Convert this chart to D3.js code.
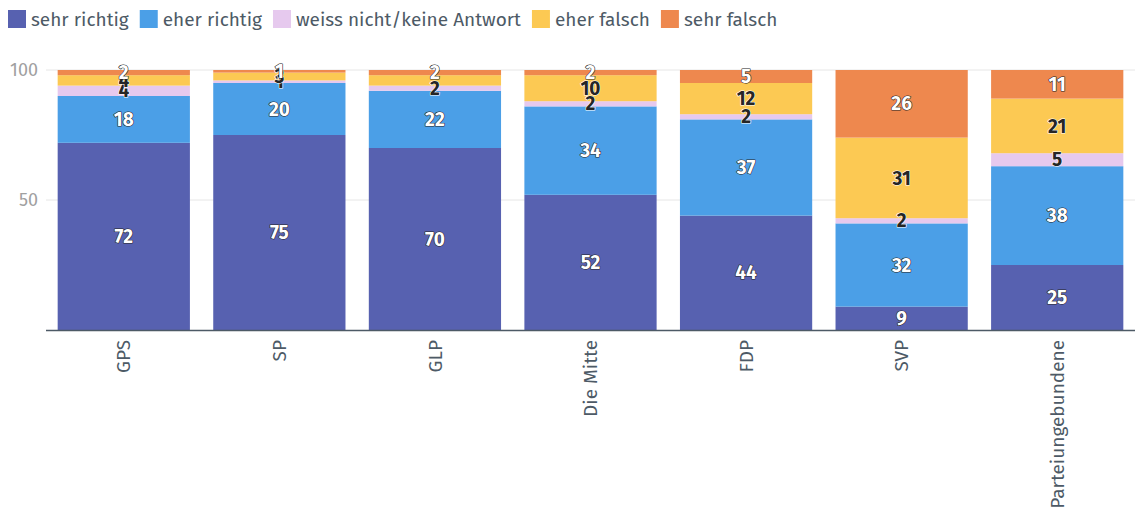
<!DOCTYPE html>
<html><head><meta charset="utf-8">
<script src="https://cdn.jsdelivr.net/npm/d3@7"></script>
<style>
body{margin:0;background:#fff;}
svg{display:block;font-family:"Fira Sans","Lato","Open Sans",sans-serif;}
</style></head>
<body><svg id="c" width="1135" height="509"></svg>
<script>
const categories = ["GPS","SP","GLP","Die Mitte","FDP","SVP","Parteiungebundene"];
const seriesNames = ["sehr richtig","eher richtig","weiss nicht/keine Antwort","eher falsch","sehr falsch"];
const sehrRichtig = [72,75,70,52,44,9,25];
const eherRichtig = [18,20,22,34,37,32,38];
const weissNicht  = [4,1,2,2,2,2,5];
const eherFalsch  = [4,3,4,10,12,31,21];
const sehrFalsch  = [2,1,2,2,5,26,11];
const yTicks = [50,100];
// labels the reference hides because they collide (category, series)
const hiddenLabels = [["GLP","eher falsch"]];

const colors = ["#5761b0","#4b9fe7","#e6c9ee","#fcc953","#ee884e"];
const darkText = [false,false,true,true,false];
const values = [sehrRichtig,eherRichtig,weissNicht,eherFalsch,sehrFalsch];

const svg = d3.select("#c");
const x = d3.scaleBand().domain(categories).range([46,1135]).paddingInner(0.15).paddingOuter(0.075);
const y = d3.scaleLinear().domain([0,100]).range([330,70]);

// grid
svg.append("g").selectAll("line").data(yTicks).join("line")
  .attr("x1",46).attr("x2",1135).attr("y1",d=>y(d)).attr("y2",d=>y(d))
  .attr("stroke","#e6e6e6").attr("stroke-width",1);
svg.append("g").selectAll("text").data(yTicks).join("text")
  .attr("x",38).attr("y",d=>y(d)).attr("dy","0.35em").attr("text-anchor","end")
  .attr("fill","#a0a0a0").attr("font-size",18).text(d=>d);

// stacks
const rows = categories.map((c,i)=>{const o={cat:c}; seriesNames.forEach((s,k)=>o[s]=values[k][i]); return o;});
const stack = d3.stack().keys(seriesNames)(rows);
const g = svg.append("g");
stack.forEach((layer,k)=>{
  g.append("g").selectAll("rect").data(layer).join("rect")
   .attr("x",d=>x(d.data.cat)).attr("width",x.bandwidth())
   .attr("y",d=>y(d[1])).attr("height",d=>y(d[0])-y(d[1]))
   .attr("fill",colors[k]);
});
// axis line
svg.append("line").attr("x1",46).attr("x2",1135).attr("y1",330.5).attr("y2",330.5)
  .attr("stroke","#4d5a66").attr("stroke-width",1.5);

// labels
const isHidden = (cat,s)=>hiddenLabels.some(h=>h[0]===cat&&h[1]===s);
stack.forEach((layer,k)=>{
  g.append("g").selectAll("text").data(layer.filter(d=>!isHidden(d.data.cat,seriesNames[k]))).join("text")
   .attr("x",d=>x(d.data.cat)+x.bandwidth()/2)
   .attr("y",d=>y((d[0]+d[1])/2)).attr("dy","0.35em")
   .attr("text-anchor","middle").attr("font-size",19).attr("font-weight","bold")
   .attr("fill",darkText[k]?"#262626":"#fff")
   .attr("stroke",darkText[k]?"#fff":"#262626").attr("stroke-width",1.2)
   .attr("stroke-linejoin","round").attr("paint-order","stroke")
   .text(d=>d[1]-d[0]);
});

// x labels
svg.append("g").selectAll("text").data(categories).join("text")
  .attr("transform",d=>`translate(${x(d)+x.bandwidth()/2},340) rotate(-90)`)
  .attr("dy","0.35em").attr("text-anchor","end")
  .attr("fill","#4d5a66").attr("font-size",19).text(d=>d);

// legend
const lg = svg.append("g");
let lx = 8;
seriesNames.forEach((s,k)=>{
  lg.append("rect").attr("x",lx).attr("y",10).attr("width",18).attr("height",18).attr("fill",colors[k]);
  const t = lg.append("text").attr("x",lx+23).attr("y",19).attr("dy","0.35em")
    .attr("fill","#4d5a66").attr("font-size",19).text(s);
  lx += 23 + t.node().getComputedTextLength() + 11;
});
</script></body></html>
